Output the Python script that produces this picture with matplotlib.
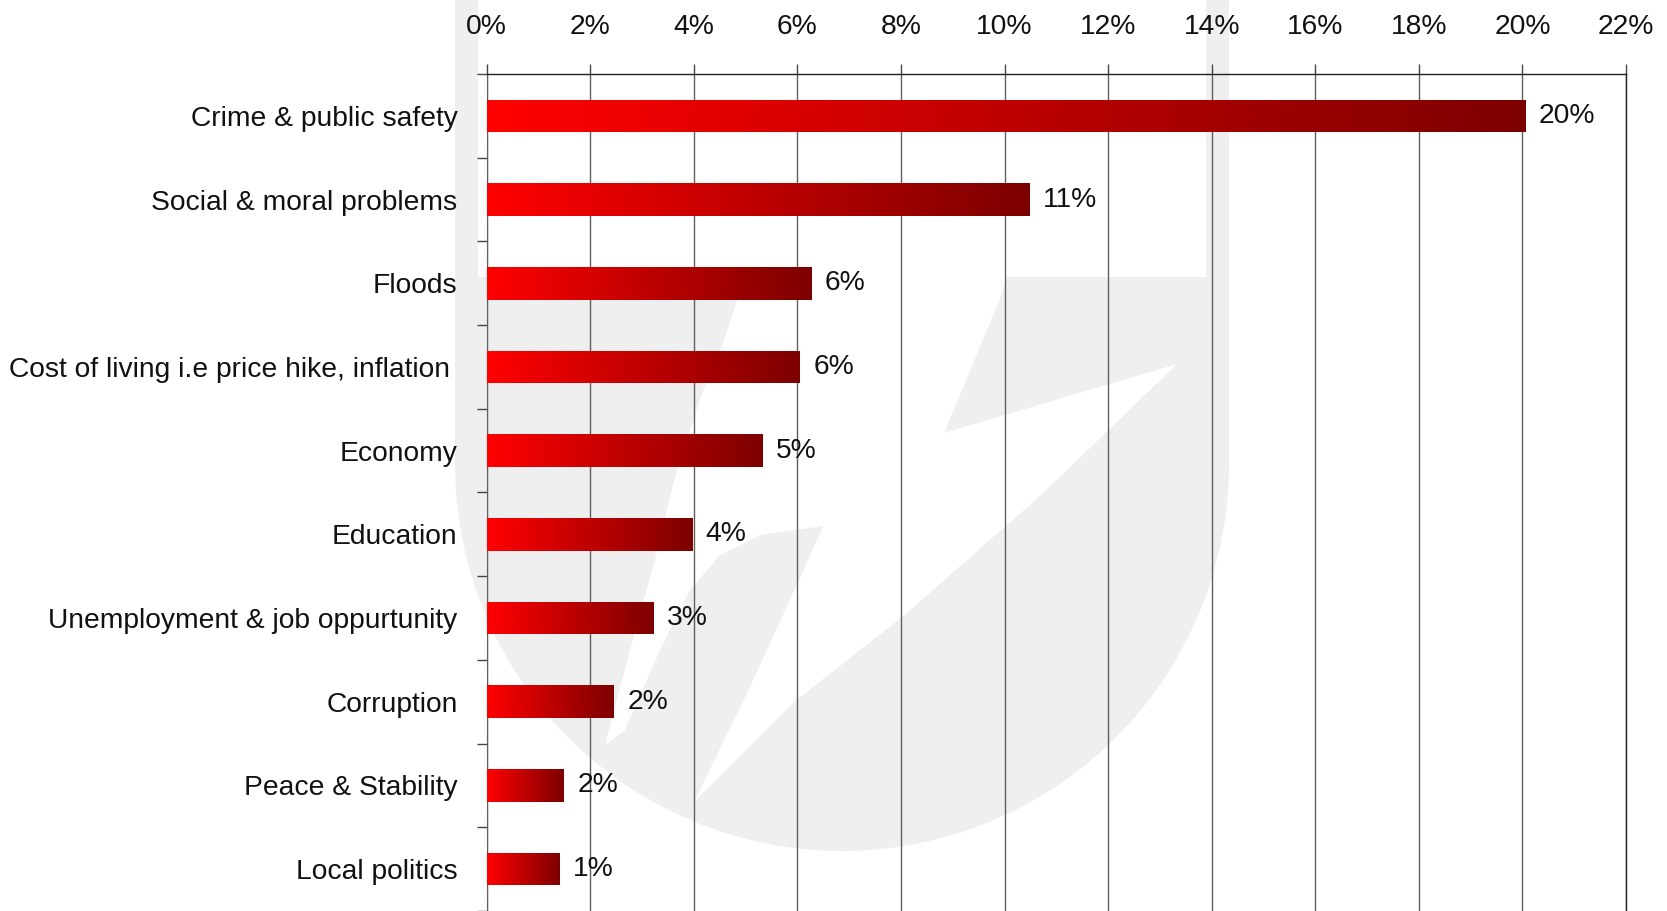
import numpy as np
import matplotlib
matplotlib.use("Agg")
import matplotlib.pyplot as plt
from matplotlib.patches import Polygon
from matplotlib.colors import LinearSegmentedColormap

# ---------------- data ----------------
categories = [
    "Crime & public safety",
    "Social & moral problems",
    "Floods",
    "Cost of living i.e price hike, inflation ",
    "Economy",
    "Education",
    "Unemployment & job oppurtunity",
    "Corruption",
    "Peace & Stability",
    "Local politics",
]
values = [20.05, 10.47, 6.26, 6.04, 5.32, 3.96, 3.22, 2.45, 1.48, 1.40]
value_labels = ["20%", "11%", "6%", "6%", "5%", "4%", "3%", "2%", "2%", "1%"]
x_ticks = list(range(0, 23, 2))
x_tick_labels = [f"{t}%" for t in x_ticks]

# ---------------- style ----------------
plt.rcParams["font.family"] = ["Liberation Sans", "DejaVu Sans"]
FS = 20.3
W, H = 1667, 911
fig = plt.figure(figsize=(W / 100, H / 100), dpi=100)
fig.patch.set_facecolor("white")

# ---------------- faint watermark logo (background) ----------------
bg = fig.add_axes([0, 0, 1, 1], zorder=0)
bg.set_xlim(0, W)
bg.set_ylim(H, 0)
bg.axis("off")
wm = "#efefef"
cx, cy, r = 842, 464, 387
ang = np.linspace(np.pi, 0, 120)
outer = [(cx - r, 0)] + [(cx + r * np.cos(a), cy + r * np.sin(a)) for a in ang] + [(cx + r, 0)]
bg.add_patch(Polygon(outer, closed=True, facecolor=wm, edgecolor="none"))
white_shape = [
    (478, 0), (1206, 0), (1206, 277), (1007, 277), (998, 304), (944, 433),
    (1177, 364), (1040, 496), (901, 618), (794, 702), (694, 802), (748, 691),
    (801, 576), (823, 526), (760, 535), (720, 555), (690, 590), (660, 650),
    (625, 730), (605, 745), (630, 650), (655, 560), (673, 484), (701, 396),
    (723, 343), (737, 301), (737, 277), (478, 277),
]
bg.add_patch(Polygon(white_shape, closed=True, facecolor="white", edgecolor="none"))

# ---------------- main axes ----------------
left_px, right_px, top_px = 486.7, 1626, 74
ax = fig.add_axes([left_px / W, 0, (right_px - left_px) / W, 1 - top_px / H], zorder=1)
ax.set_facecolor("none")

y = np.arange(len(categories))
bar_h = 0.39
bars = ax.barh(y, values, height=bar_h, color="none", edgecolor="none", zorder=3)

cmap = LinearSegmentedColormap.from_list("redgrad", ["#ff0000", "#7d0000"])
grad = np.linspace(0, 1, 256).reshape(1, -1)
for rect in bars:
    x0, yb = rect.get_x(), rect.get_y()
    w, h = rect.get_width(), rect.get_height()
    im = ax.imshow(grad, cmap=cmap, aspect="auto", extent=[x0, x0 + w, yb + h, yb],
                   zorder=3, interpolation="bilinear")
    im.set_clip_path(rect)

for yi, v, lab in zip(y, values, value_labels):
    ax.annotate(lab, xy=(v, yi), xytext=(10, 0), textcoords="offset points",
                ha="left", va="center", fontsize=FS, color="#111111", zorder=4)

ax.set_xlim(0, 22)
ax.set_ylim(len(categories) - 0.5, -0.5)

# x axis on top
ax.xaxis.tick_top()
ax.set_xticks(x_ticks)
ax.set_xticklabels(x_tick_labels, fontsize=FS, color="#111111")
ax.tick_params(axis="x", which="major", direction="out", length=7.2, width=1.0,
               color="#444444", pad=17.5)
ax.xaxis.grid(True, color="#5f5f5f", linewidth=1.0, zorder=1)
ax.set_axisbelow(True)

# y axis: ticks at category boundaries, labels at centres
ax.set_yticks(np.arange(-0.5, len(categories), 1.0))
ax.set_yticklabels([])
ax.set_yticks(y, minor=True)
ax.set_yticklabels(categories, minor=True, fontsize=FS, color="#111111")
ax.tick_params(axis="y", which="major", direction="out", length=7.2, width=1.0, color="#444444")
ax.tick_params(axis="y", which="minor", length=0, pad=21)

ax.spines["bottom"].set_visible(False)
ax.spines["top"].set_color("#222222")
ax.spines["top"].set_linewidth(1.0)
ax.spines["left"].set_color("#5f5f5f")
ax.spines["right"].set_color("#222222")
ax.spines["right"].set_linewidth(1.0)

fig.savefig("out.png", dpi=100, facecolor="white")
